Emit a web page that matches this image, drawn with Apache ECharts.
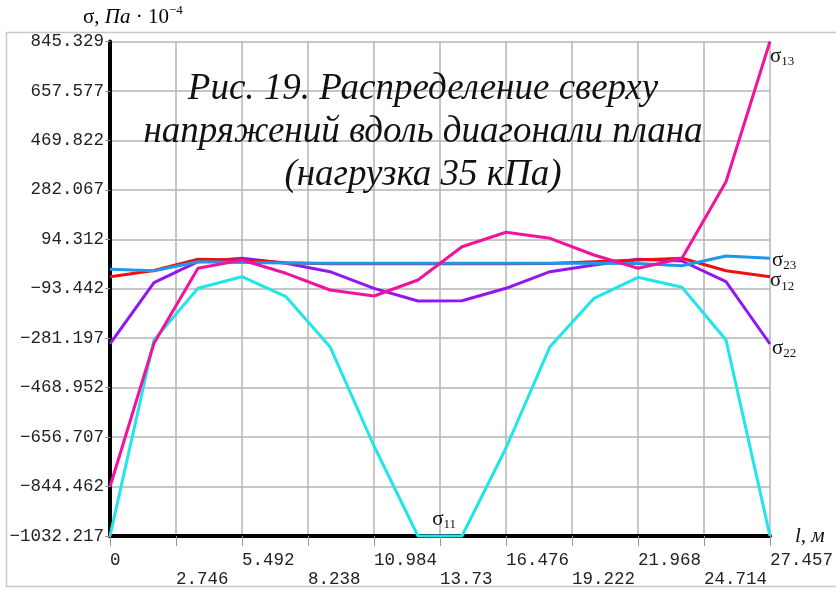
<!DOCTYPE html>
<html>
<head>
<meta charset="utf-8">
<script src="https://cdn.jsdelivr.net/npm/echarts@6/dist/echarts.min.js"></script>
<style>
  html, body { margin: 0; padding: 0; background: #fff; }
  #chart { width: 836px; height: 589px; }
</style>
</head>
<body>
<div id="chart"></div>
<script>
// Nodes along the plan diagonal, l (m)
const positions = [0, 1.830, 3.661, 5.491, 7.322, 9.152, 10.983, 12.813, 14.644, 16.474, 18.305, 20.135, 21.966, 23.796, 25.627, 27.457];

// Stresses at the top surface, Pa·10^-4
const sigma11 = [-1032.217, -288.0, -91.8, -47.7, -123.7, -313.5, -690.5, -1032.217, -1032.217, -698.1, -313.5, -129.7, -50.0, -88.0, -288.0, -1032.217];
const sigma12 = [-47.7, -24.0, 18.3, 15.7, 5.0, 1.5, 1.5, 1.5, 1.5, 1.5, 2.0, 9.2, 15.7, 22.2, -25.0, -47.7];
const sigma13 = [-845.1, -300.6, -15.8, 15.7, -34.8, -98.2, -121.0, -60.2, 66.2, 120.9, 98.1, 34.7, -15.8, 22.2, 313.0, 845.329];
const sigma22 = [-303.2, -70.5, 9.2, 22.2, 3.2, -28.7, -91.8, -140.0, -138.8, -91.8, -28.7, -3.3, 18.3, 11.9, -66.7, -303.2];
const sigma23 = [-19.6, -24.9, 9.2, 6.5, 4.0, 3.2, 3.2, 3.5, 3.5, 3.2, 3.2, 3.2, 2.0, -5.9, 30.9, 22.2];

// Axis ticks and their printed labels
const xTicks = [0, 2.7457, 5.4914, 8.2371, 10.9828, 13.7285, 16.4742, 19.2199, 21.9656, 24.7113, 27.457];
const xTickLabels = ['0', '2.746', '5.492', '8.238', '10.984', '13.73', '16.476', '19.222', '21.968', '24.714', '27.457'];
const yTicks = [-1032.217, -844.462, -656.707, -468.952, -281.197, -93.442, 94.312, 282.067, 469.822, 657.577, 845.329];
const yTickLabels = ['\u22121032.217', '\u2212844.462', '\u2212656.707', '\u2212468.952', '\u2212281.197', '\u221293.442', '94.312', '282.067', '469.822', '657.577', '845.329'];

const title = ['Рис. 19. Распределение сверху', 'напряжений вдоль диагонали плана', '(нагрузка 35 кПа)'];

const pairs = (ys) => positions.map((x, i) => [x, ys[i]]);
const nearestIndex = (arr, v) => {
  let best = 0;
  arr.forEach((t, i) => { if (Math.abs(t - v) < Math.abs(arr[best] - v)) best = i; });
  return best;
};

const serif = 'Liberation Serif';
const mono = 'Liberation Mono';

const subRich = {
  s: { fontFamily: serif, fontSize: 21, color: '#111', lineHeight: 24 },
  n: { fontFamily: serif, fontSize: 13, color: '#111', verticalAlign: 'bottom', lineHeight: 24, padding: [10, 0, 0, 0] }
};

function makeSeries(name, ys, color, sub, labelOffset) {
  const s = {
    name: name,
    type: 'line',
    data: pairs(ys),
    symbol: 'none',
    lineStyle: { color: color, width: 3 },
    itemStyle: { color: color },
    animation: false,
    clip: false
  };
  if (sub) {
    s.endLabel = {
      show: true,
      formatter: '{s|σ}{n|' + sub + '}',
      rich: subRich,
      offset: labelOffset,
      distance: 2
    };
  }
  return s;
}

const chart = echarts.init(document.getElementById('chart'), null, { renderer: 'canvas' });

// σ11 is labelled above its flat minimum, where it runs along the l axis
const cyan = makeSeries('σ11', sigma11, '#20E6EA', null);
cyan.markPoint = {
  symbol: 'circle',
  symbolSize: 1,
  silent: true,
  itemStyle: { color: 'rgba(0,0,0,0)' },
  data: [{ coord: [13.9, -1032.217], value: 0 }],
  label: {
    show: true,
    position: 'top',
    distance: 4,
    formatter: '{s|σ}{n|11}',
    rich: subRich
  }
};

chart.setOption({
  backgroundColor: '#ffffff',
  animation: false,
  grid: { left: 110, right: 65, top: 41.5, bottom: 53, containLabel: false },
  xAxis: {
    type: 'value',
    min: 0,
    max: 27.457,
    name: 'l, м',
    nameLocation: 'end',
    nameGap: 25,
    nameTextStyle: { fontFamily: serif, fontStyle: 'italic', fontSize: 21, color: '#111', padding: [0, 0, 6, 0] },
    axisLine: { show: true, onZero: false, lineStyle: { color: '#000', width: 4 } },
    axisTick: { show: true, length: 10, customValues: xTicks, lineStyle: { color: '#999', width: 1 } },
    axisLabel: {
      customValues: xTicks,
      align: 'left',
      margin: 15,
      fontFamily: mono,
      fontSize: 17.5,
      lineHeight: 19,
      color: '#222',
      formatter: (v) => {
        const i = nearestIndex(xTicks, v);
        return (i % 2 === 1 ? '\n' : '') + xTickLabels[i];
      }
    },
    splitLine: { show: true, lineStyle: { color: '#b4b4b4', width: 1.5 } }
  },
  yAxis: {
    type: 'value',
    min: -1032.217,
    max: 845.329,
    axisLine: { show: true, lineStyle: { color: '#000', width: 4 } },
    axisTick: { show: true, length: 5, customValues: yTicks, lineStyle: { color: '#999', width: 1 } },
    axisLabel: {
      customValues: yTicks,
      margin: 6,
      fontFamily: mono,
      fontSize: 17.5,
      color: '#222',
      formatter: (v) => yTickLabels[nearestIndex(yTicks, v)]
    },
    splitLine: { show: true, lineStyle: { color: '#b4b4b4', width: 1.5 } }
  },
  graphic: [
    {
      type: 'rect',
      silent: true,
      z: -1,
      shape: { x: 6.5, y: 32.5, width: 840, height: 554 },
      style: { fill: 'none', stroke: '#c8c8c8', lineWidth: 1.5 }
    },
    {
      type: 'text',
      left: 83,
      top: 4,
      silent: true,
      style: {
        text: '{s|σ, }{i|Па}{s| · 10}{e|−4}',
        rich: {
          s: { fontFamily: serif, fontSize: 21, color: '#111', lineHeight: 26 },
          i: { fontFamily: serif, fontStyle: 'italic', fontSize: 21, color: '#111', lineHeight: 26 },
          e: { fontFamily: serif, fontSize: 13, color: '#111', verticalAlign: 'top', lineHeight: 26, padding: [0, 0, 12, 0] }
        }
      }
    },
    {
      type: 'text',
      x: 423,
      y: 68,
      silent: true,
      z: 10,
      style: {
        text: title.join('\n'),
        fontFamily: serif,
        fontStyle: 'italic',
        fontSize: 37,
        lineHeight: 43,
        align: 'center',
        fill: '#111'
      }
    }
  ],
  series: [
    cyan,
    makeSeries('σ22', sigma22, '#9116F2', '22', [0, 4]),
    makeSeries('σ12', sigma12, '#EE1010', '12', [-2, 4]),
    makeSeries('σ23', sigma23, '#1E98EC', '23', [0, 2]),
    makeSeries('σ13', sigma13, '#F2129C', '13', [-2, 15])
  ]
});
</script>
</body>
</html>
